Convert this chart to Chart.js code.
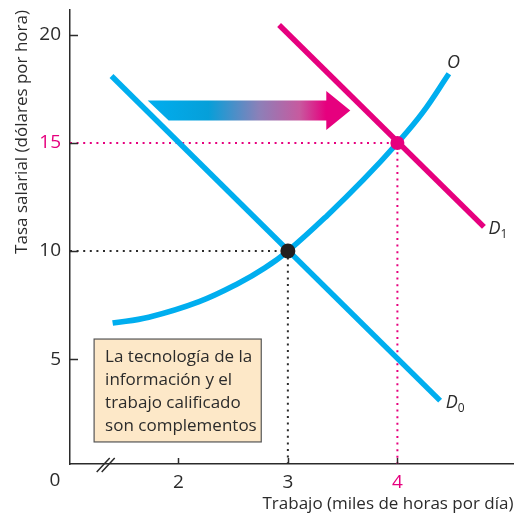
<!DOCTYPE html>
<html lang="es">
<head>
<meta charset="utf-8">
<script src="https://cdn.jsdelivr.net/npm/chart.js@4"></script>
<style>
  html, body { margin: 0; padding: 0; background: #fff; }
  #grafico { display: block; }
</style>
</head>
<body>
<canvas id="grafico" width="521" height="517"></canvas>
<script>
// datos (miles de horas por dia, dolares por hora)
const demandaD0X = [1.39, 4.39];
const demandaD0Y = [18.1, 3.08];
const demandaD1X = [2.92, 4.79];
const demandaD1Y = [20.46, 11.12];
const ofertaX = [1.40, 1.73, 2.19, 2.55, 2.79, 3, 3.36, 3.69, 4, 4.23, 4.47];
const ofertaY = [6.67, 6.94, 7.66, 8.51, 9.22, 10, 11.65, 13.3, 15, 16.4, 18.2];
const equilibrioX = [3, 4];
const equilibrioY = [10, 15];
const ticksX = [2, 3, 4];
const ticksY = [5, 10, 15, 20];
const textoCaja = ["La tecnología de la", "información y el", "trabajo calificado", "son complementos"];

const azul = "#00AEEF";
const rosa = "#E6007E";
const gris = "#2b2b2b";
const fuente = "'Open Sans'";

const xMin = 1.011, xMax = 5.06, yMin = 0.15, yMax = 21.15;

function puntos(xs, ys) {
  return xs.map((v, i) => ({ x: v, y: ys[i] }));
}

// lineas punteadas desde los ejes hasta cada equilibrio
function guia(i) {
  return [
    { x: xMin, y: equilibrioY[i] },
    { x: equilibrioX[i], y: equilibrioY[i] },
    { x: equilibrioX[i], y: yMin }
  ];
}

const extras = {
  id: "extras",
  beforeDatasetsDraw(chart) {
    const { ctx, scales: { x, y } } = chart;
    // flecha con degradado
    const x0 = x.getPixelForValue(1.72);
    const x1 = x.getPixelForValue(3.57);
    const yc = y.getPixelForValue(16.5);
    const xh = x1 - 24;
    const grad = ctx.createLinearGradient(x0, 0, x1, 0);
    grad.addColorStop(0, "#00AEEF");
    grad.addColorStop(0.3, "#069FD9");
    grad.addColorStop(0.55, "#8C80B8");
    grad.addColorStop(0.75, "#C75A9F");
    grad.addColorStop(0.88, rosa);
    grad.addColorStop(1, rosa);
    ctx.save();
    ctx.fillStyle = grad;
    ctx.beginPath();
    ctx.moveTo(x0, yc - 10);
    ctx.lineTo(xh, yc - 10);
    ctx.lineTo(xh, yc - 19.5);
    ctx.lineTo(x1, yc);
    ctx.lineTo(xh, yc + 19.5);
    ctx.lineTo(xh, yc + 10);
    ctx.lineTo(x0 + 21, yc + 10);
    ctx.closePath();
    ctx.fill();
    ctx.restore();
  },
  afterDraw(chart) {
    const { ctx, chartArea: area, scales: { x, y } } = chart;
    ctx.save();
    // marcas de los ejes hacia dentro
    ctx.strokeStyle = gris;
    ctx.lineWidth = 1.5;
    ctx.beginPath();
    ticksY.forEach(v => {
      const py = Math.round(y.getPixelForValue(v)) + 0.5;
      ctx.moveTo(area.left, py);
      ctx.lineTo(area.left + 8, py);
    });
    ticksX.forEach(v => {
      const px = Math.round(x.getPixelForValue(v)) + 0.5;
      ctx.moveTo(px, area.bottom);
      ctx.lineTo(px, area.bottom - 6);
    });
    ctx.stroke();

    // corte del eje x
    const cx = x.getPixelForValue(1.337);
    const b = area.bottom;
    ctx.beginPath();
    ctx.moveTo(cx - 9, b + 8); ctx.lineTo(cx + 4, b - 6);
    ctx.moveTo(cx - 4, b + 8); ctx.lineTo(cx + 9, b - 6);
    ctx.stroke();

    // origen
    ctx.fillStyle = gris;
    ctx.font = "19px " + fuente;
    ctx.textAlign = "center";
    ctx.textBaseline = "middle";
    ctx.fillText("0", area.left - 15, b + 17);

    // caja de texto
    const bx0 = x.getPixelForValue(1.231), bx1 = x.getPixelForValue(2.757);
    const by0 = y.getPixelForValue(5.93), by1 = y.getPixelForValue(1.17);
    ctx.fillStyle = "#FDE8C8";
    ctx.fillRect(bx0, by0, bx1 - bx0, by1 - by0);
    ctx.strokeStyle = "#555";
    ctx.lineWidth = 1.2;
    ctx.strokeRect(bx0, by0, bx1 - bx0, by1 - by0);
    ctx.fillStyle = gris;
    ctx.font = "17px " + fuente;
    ctx.textAlign = "left";
    textoCaja.forEach((t, i) => ctx.fillText(t, bx0 + 11, by0 + 18 + i * 23));

    // nombres de las curvas
    ctx.font = "italic 18px " + fuente;
    ctx.fillStyle = gris;
    ctx.fillText("O", x.getPixelForValue(4.452), y.getPixelForValue(18.71));
    const etiqueta = (v, vx, vy) => {
      const px = x.getPixelForValue(vx), py = y.getPixelForValue(vy);
      ctx.font = "italic 18px " + fuente;
      ctx.fillText("D", px, py);
      const w = ctx.measureText("D").width;
      ctx.font = "12px " + fuente;
      ctx.fillText(v, px + w, py + 6);
    };
    etiqueta("1", 4.831, 11.04);
    etiqueta("0", 4.442, 2.97);
    ctx.restore();
  }
};

const ctx = document.getElementById("grafico").getContext("2d");
const chart = new Chart(ctx, {
  type: "scatter",
  data: {
    datasets: [
      {
        data: [{ x: equilibrioX[1], y: equilibrioY[1] }],
        pointRadius: 7, backgroundColor: rosa, borderWidth: 0, order: 0
      },
      {
        data: [{ x: equilibrioX[0], y: equilibrioY[0] }],
        pointRadius: 7.5, backgroundColor: "#231f20", borderWidth: 0, order: 1
      },
      {
        data: puntos(demandaD1X, demandaD1Y), showLine: true,
        borderColor: rosa, borderWidth: 5.5, pointRadius: 0, order: 2
      },
      {
        data: puntos(ofertaX, ofertaY), showLine: true, tension: 0.4,
        borderColor: azul, borderWidth: 5.5, pointRadius: 0, order: 3
      },
      {
        data: puntos(demandaD0X, demandaD0Y), showLine: true,
        borderColor: azul, borderWidth: 5.5, pointRadius: 0, order: 4
      },
      {
        data: guia(1), showLine: true, borderColor: rosa, borderWidth: 2,
        borderDash: [2, 4.6], pointRadius: 0, order: 5
      },
      {
        data: guia(0), showLine: true, borderColor: gris, borderWidth: 2,
        borderDash: [2, 4.6], pointRadius: 0, order: 6
      }
    ]
  },
  options: {
    responsive: false,
    animation: false,
    layout: { padding: { top: 10, right: 3, left: 0, bottom: 0 } },
    plugins: { legend: { display: false }, tooltip: { enabled: false } },
    scales: {
      x: {
        type: "linear", min: xMin, max: xMax,
        afterBuildTicks: s => { s.ticks = ticksX.map(v => ({ value: v })); },
        afterFit: s => { s.height = 53; s.paddingLeft = 0; s.paddingRight = 0; },
        grid: { display: false, drawTicks: false },
        border: { display: true, color: gris, width: 1.5 },
        ticks: {
          padding: 7,
          font: { family: fuente, size: 19 },
          color: c => (c.tick && c.tick.value === 4 ? rosa : gris)
        },
        title: {
          display: true, text: "Trabajo (miles de horas por día)", align: "end",
          color: gris, font: { family: fuente, size: 17 }, padding: { top: 0, bottom: 3 }
        }
      },
      y: {
        type: "linear", min: yMin, max: yMax,
        afterBuildTicks: s => { s.ticks = ticksY.map(v => ({ value: v })); },
        afterFit: s => { s.width = 70; s.paddingTop = 0; s.paddingBottom = 0; },
        grid: { display: false, drawTicks: false },
        border: { display: true, color: gris, width: 1.5 },
        ticks: {
          padding: 9,
          font: { family: fuente, size: 19 },
          color: c => (c.tick && c.tick.value === 15 ? rosa : gris)
        },
        title: {
          display: true, text: "Tasa salarial (dólares por hora)", align: "end",
          color: gris, font: { family: fuente, size: 17 }, padding: { top: 12, bottom: 0 }
        }
      }
    }
  },
  plugins: [extras]
});
</script>
</body>
</html>
